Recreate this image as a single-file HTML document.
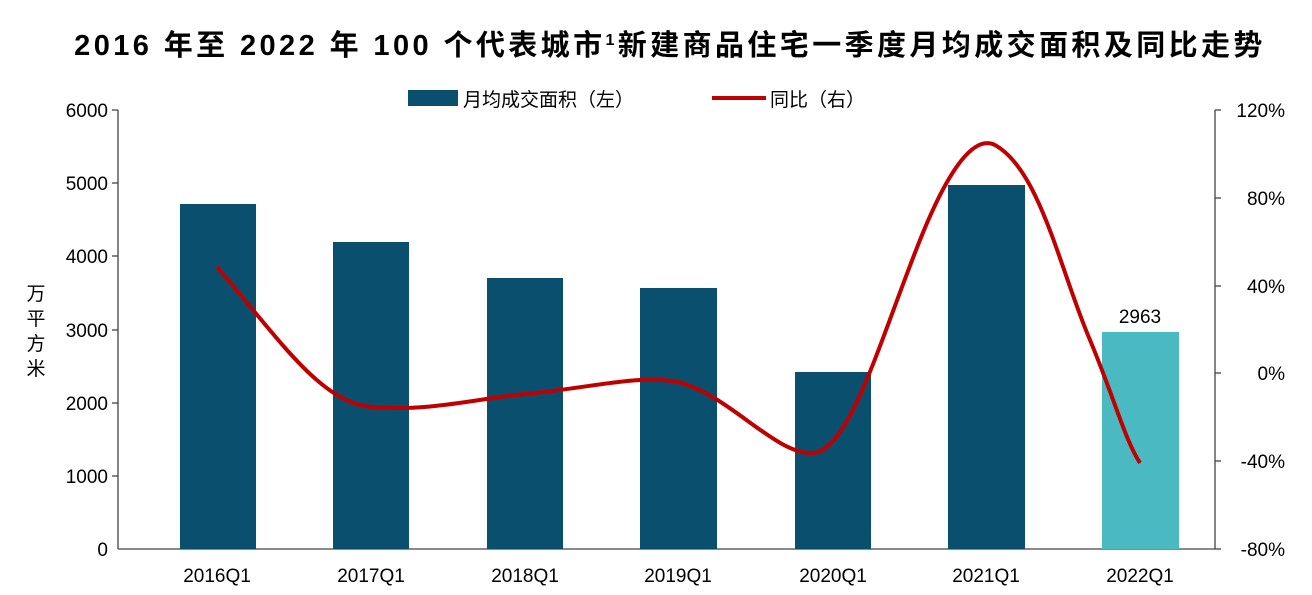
<!DOCTYPE html>
<html><head><meta charset="utf-8"><style>
body{margin:0;background:#fff;}
svg{display:block}
text{font-family:"Liberation Sans","Noto Sans CJK SC",sans-serif;}
</style></head><body>
<svg width="1312" height="595" viewBox="0 0 1312 595" xmlns="http://www.w3.org/2000/svg">
<rect width="1312" height="595" fill="#fff"/>
<text x="670" y="55" text-anchor="middle" font-size="29" font-weight="bold" fill="#000" letter-spacing="3.4">2016 年至 2022 年 100 个代表城市<tspan font-size="16" dy="-10">1</tspan><tspan dy="10">新建商品住宅一季度月均成交面积及同比走势</tspan></text>
<!-- legend -->
<rect x="408" y="90" width="50" height="16" fill="#0a4f6e"/>
<text x="463" y="106" font-size="19" fill="#000">月均成交面积（左）</text>
<line x1="712" y1="98" x2="766" y2="98" stroke="#c00000" stroke-width="4"/>
<text x="770" y="106" font-size="19" fill="#000">同比（右）</text>
<!-- axes -->
<g stroke="#444" stroke-width="1.3">
<line x1="118" y1="110" x2="118" y2="549"/>
<line x1="118" y1="549" x2="1215" y2="549"/>
<line x1="1215" y1="110" x2="1215" y2="549"/>
<line x1="112" y1="110" x2="118" y2="110"/><line x1="112" y1="183" x2="118" y2="183"/><line x1="112" y1="256" x2="118" y2="256"/><line x1="112" y1="330" x2="118" y2="330"/><line x1="112" y1="403" x2="118" y2="403"/><line x1="112" y1="476" x2="118" y2="476"/>
<line x1="1215" y1="110" x2="1221" y2="110"/><line x1="1215" y1="198" x2="1221" y2="198"/><line x1="1215" y1="286" x2="1221" y2="286"/><line x1="1215" y1="373" x2="1221" y2="373"/><line x1="1215" y1="461" x2="1221" y2="461"/><line x1="1215" y1="549" x2="1221" y2="549"/>
</g>
<g font-size="19" fill="#000" text-anchor="end">
<text x="108" y="117">6000</text><text x="108" y="190">5000</text><text x="108" y="263">4000</text><text x="108" y="337">3000</text><text x="108" y="410">2000</text><text x="108" y="483">1000</text><text x="108" y="556">0</text>
</g>
<g font-size="19" fill="#000" text-anchor="end">
<text x="1285" y="117">120%</text><text x="1285" y="205">80%</text><text x="1285" y="293">40%</text><text x="1285" y="380">0%</text><text x="1285" y="468">-40%</text><text x="1285" y="556">-80%</text>
</g>
<g font-size="19" fill="#000" text-anchor="middle">
<text x="36" y="300">万</text><text x="36" y="325">平</text><text x="36" y="350">方</text><text x="36" y="375">米</text>
</g>
<!-- bars -->
<g fill="#0a4f6e">
<rect x="180" y="204" width="76" height="345"/>
<rect x="333" y="242" width="76" height="307"/>
<rect x="487" y="278" width="76" height="271"/>
<rect x="640" y="288" width="77" height="261"/>
<rect x="795" y="372" width="76" height="177"/>
<rect x="948" y="185" width="77" height="364"/>
</g>
<rect x="1102" y="332" width="77" height="217" fill="#4ab9c2"/>
<text x="1140" y="323" text-anchor="middle" font-size="19" fill="#000">2963</text>
<g font-size="19" fill="#000" text-anchor="middle">
<text x="217" y="582">2016Q1</text><text x="371" y="582">2017Q1</text><text x="525" y="582">2018Q1</text><text x="678" y="582">2019Q1</text><text x="833" y="582">2020Q1</text><text x="986" y="582">2021Q1</text><text x="1140" y="582">2022Q1</text>
</g>
<path d="M217,267 C280,340 320,402 371,407 C430,412 480,398 525,394 C590,388 640,374 678,382 C730,395 775,455 813,453 C850,450 880,340 920,240 C950,165 975,135 995,145 C1040,170 1060,270 1090,340 C1115,400 1125,440 1140,463" fill="none" stroke="#c00000" stroke-width="4"/>
</svg>
</body></html>
